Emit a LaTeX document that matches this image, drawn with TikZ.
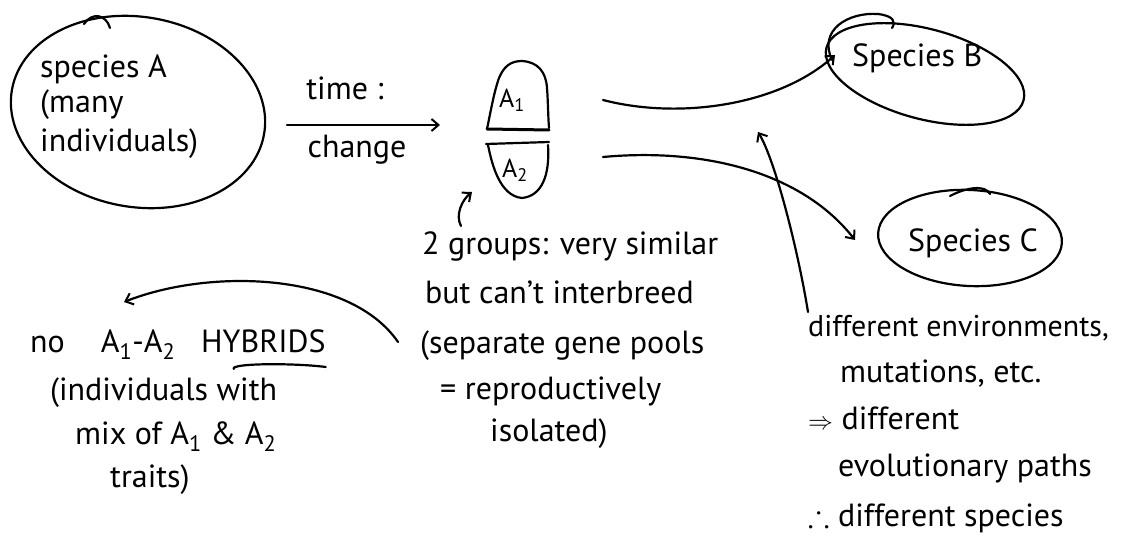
\documentclass[tikz,border=0pt]{standalone}
\usepackage{fontspec}
\usepackage{amssymb}
\setmainfont{PT Sans}
\usetikzlibrary{arrows.meta,shapes.geometric,calc}
\newcommand\subn[1]{\textsubscript{#1}}
\begin{document}
\begin{tikzpicture}[x=1pt,y=-1pt,
  pen/.style={line width=2.2pt, line cap=round, line join=round},
  arr/.style={pen, -{Straight Barb[length=7pt,width=12pt,line width=2pt]}},
  hand/.style={font=\fontsize{32}{38}\selectfont, inner sep=0pt, anchor=base west},
  label/.style={font=\fontsize{26}{30}\selectfont, inner sep=0pt, anchor=center},
  blob/.style={pen, draw, ellipse, inner sep=0pt, outer sep=0pt},
]
\useasboundingbox[fill=white] (0,0) rectangle (1123,548);

% --- species A -------------------------------------------------------
\node[blob, minimum width=256, minimum height=190, rotate=-10] (spA) at (138,112) {};
\draw[pen] (84,24) .. controls (92,12) and (106,14) .. (110,28);
\node[hand] (spA1) at (40,78) {species A};
\node[hand] (spA2) at (40,113) {(many};
\node[hand] (spA3) at (40,152) {individuals)};

% --- time & change arrow ---------------------------------------------
\coordinate (chgS) at (287,125);
\coordinate (chgE) at (440,125);
\draw[arr] (chgS) -- (chgE);
\node[hand, anchor=base] (time) at (345,100) {time :};
\node[hand, anchor=base] (chg) at (357,158) {change};

% --- the two groups A1 / A2 -------------------------------------------
\node[minimum width=62, minimum height=137, inner sep=0pt] (grp) at (518,131) {};
\draw[pen] (487,129) .. controls (491,110) and (494,92) .. (499,78)
  .. controls (504,66) and (511,61) .. (522,61)
  .. controls (538,62) and (546,72) .. (547,88)
  .. controls (548,100) and (548,115) .. (549,128);
\draw[pen, line width=3pt] (487,129) -- (549,130);
\draw[pen] (486,144) -- (549,142);
\draw[pen] (488,145) .. controls (492,165) and (500,196) .. (522,198)
  .. controls (542,196) and (550,175) .. (548,145);
\node[label] (A1) at (512,100) {A\subn{1}};
\node[label] (A2) at (515,170) {A\subn{2}};

% --- species B and C --------------------------------------------------
\node[blob, minimum width=204, minimum height=90, rotate=-15] (spB) at (925,74) {};
\draw[pen] (832,60) .. controls (818,30) and (848,12) .. (878,14)
  .. controls (894,16) and (896,22) .. (892,28);
\node[hand] (spBtxt) at (852,67) {Species B};

\node[blob, minimum width=184, minimum height=96, rotate=-3] (spC) at (970,238) {};
\draw[pen] (950,196) .. controls (965,188) and (985,184) .. (990,194);
\node[hand] (spCtxt) at (908,251) {Species C};

\coordinate (toB) at (835,55);
\coordinate (toC) at (855,240);
\draw[arr] (603,100) .. controls (680,120) and (780,105) .. (toB);
\draw[arr] (603,157) .. controls (700,148) and (800,170) .. (toC);

% --- note about the two groups ---------------------------------------
\coordinate (grpNote) at (461,226);
\coordinate (grpTip) at (472,192);
\draw[arr] (grpNote) .. controls (455,215) and (462,200) .. (grpTip);
\node[hand] (n1) at (422,254) {2 groups: very similar};
\node[hand] (n2) at (425,303) {but can't interbreed};
\node[hand] (n3) at (420,353) {(separate gene pools};
\node[hand] (n4) at (440,399) {= reproductively};
\node[hand] (n5) at (490,441) {isolated)};

% --- hybrids note -----------------------------------------------------
\coordinate (hybS) at (398,342);
\coordinate (hybE) at (124,302);
\draw[arr] (hybS) .. controls (350,272) and (210,268) .. (hybE);
\node[hand] (h1) at (30,352)
  {no\hspace{36pt}A\subn{1}-A\subn{2}\hspace{26pt}HYBRIDS};
\draw[pen] ($(h1.base east)+(-92,17)$) .. controls +(-4,-6) and +(-30,-4) .. ($(h1.base east)+(0,15)$);
\node[hand] (h2) at (50,400) {(individuals with};
\node[hand] (h3) at (75,444) {mix of A\subn{1} \& A\subn{2}};
\node[hand] (h4) at (110,487) {traits)};

% --- environments note ------------------------------------------------
\coordinate (envS) at (808,312);
\coordinate (envE) at (758,132);
\draw[arr] (envS) .. controls (798,250) and (775,160) .. (envE);
\node[hand, font=\fontsize{30}{36}\selectfont] (e1) at (808,336) {different environments,};
\node[hand] (e2) at (840,382) {mutations, etc.};
\node[hand] (e3) at (808,429) {$\Rightarrow$ different};
\node[hand] (e4) at (838,476) {evolutionary paths};
\node[hand] (e5) at (808,526) {$\therefore$ different species};
\end{tikzpicture}
\end{document}
